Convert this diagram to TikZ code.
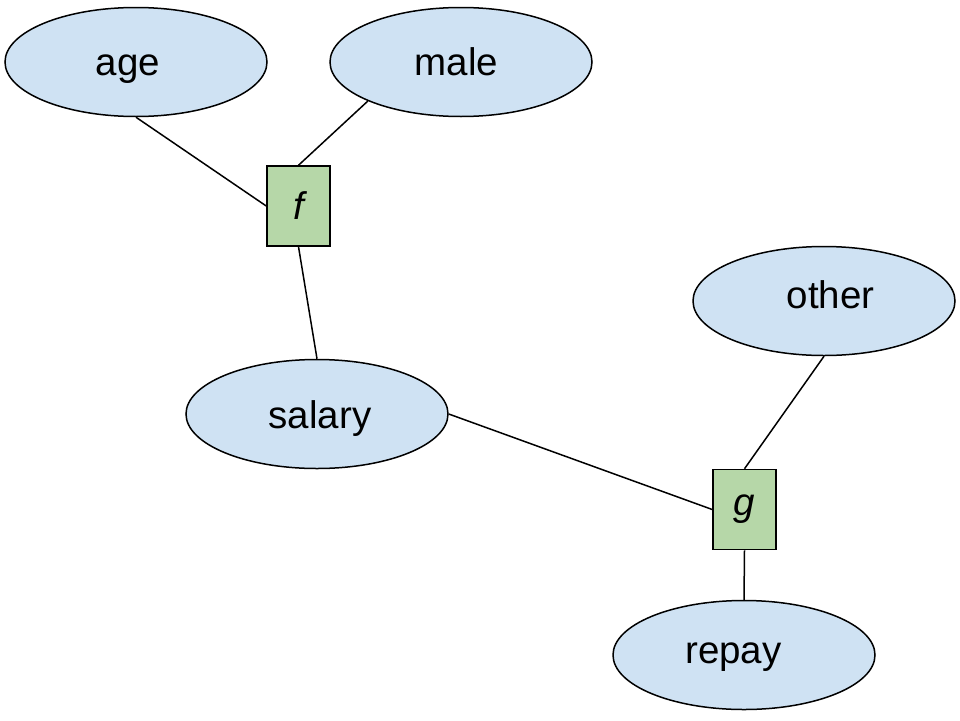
\documentclass[tikz,border=0pt]{standalone}
\usepackage{fontspec}
\setmainfont{Liberation Sans}
\usetikzlibrary{shapes.geometric}
\definecolor{varfill}{HTML}{CFE2F3}
\definecolor{factorfill}{HTML}{B6D7A8}
\begin{document}
\begin{tikzpicture}[x=1pt,y=-1pt,
  var/.style={ellipse, draw=black, line width=1.5pt, fill=varfill,
    minimum width=262pt, minimum height=109pt, inner sep=0pt},
  varlabel/.style={anchor=base, inner sep=0pt,
    font=\fontsize{38.5}{46}\selectfont},
  factor/.style={rectangle, draw=black, line width=1.5pt, fill=factorfill,
    minimum width=63pt, minimum height=80pt, inner sep=0pt,
    font=\fontsize{38.5}{46}\selectfont\itshape},
  link/.style={draw=black, line width=1.5pt}]
  \useasboundingbox (0,0) rectangle (960,720);
  % variable nodes
  \node[var] (age) at (136,62) {};
  \node[var] (male) at (461,62) {};
  \node[var] (salary) at (317,414) {};
  \node[var] (other) at (824,301) {};
  \node[var] (repay) at (744,655) {};
  % their labels, placed by baseline
  \node[varlabel, xshift=-8pt,   yshift=-13pt] (agetext)    at (age.center)    {age};
  \node[varlabel, xshift=-4.5pt, yshift=-13pt] (maletext)   at (male.center)   {male};
  \node[varlabel, xshift=3pt,    yshift=-14pt] (salarytext) at (salary.center) {salary};
  \node[varlabel, xshift=6.5pt,  yshift=-7pt]  (othertext)  at (other.center)  {other};
  \node[varlabel, xshift=-10.5pt,yshift=-8pt]  (repaytext)  at (repay.center)  {repay};
  % factor nodes
  \node[factor] (f) at (298.5,206) {f};
  \node[factor] (g) at (744.5,509.5) {g};
  % edges
  \draw[link] (age.south) -- (f.west);
  \draw[link] (male.south west) -- (f.north);
  \draw[link] (salary.north) -- (f.south);
  \draw[link] (salary.east) -- (g.west);
  \draw[link] (other.south) -- (g.north);
  \draw[link] (repay.north) -- (g.south);
\end{tikzpicture}
\end{document}
